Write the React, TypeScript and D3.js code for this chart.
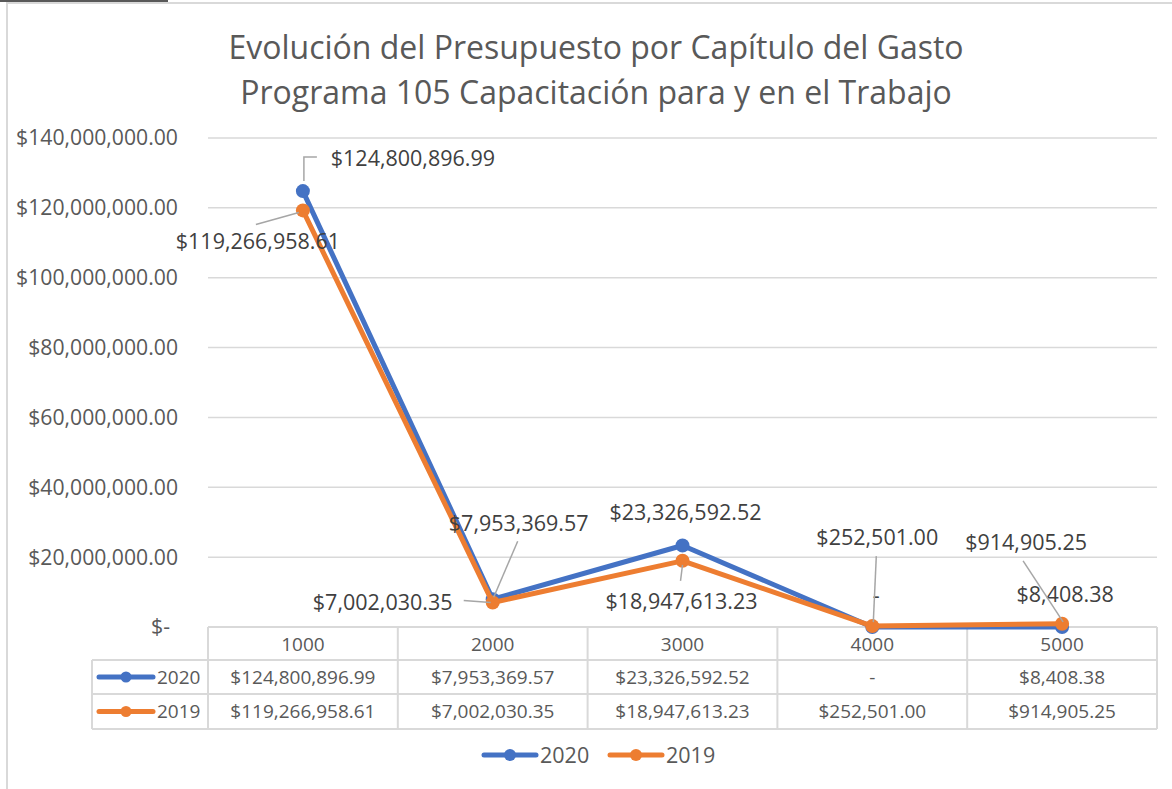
import React, { useRef, useEffect } from "react";
import * as d3 from "d3";

// chart data
const categories = ["1000", "2000", "3000", "4000", "5000"];
const seriesNames = ["2020", "2019"];
const values2020 = [124800896.99, 7953369.57, 23326592.52, 0, 8408.38];
const values2019 = [119266958.61, 7002030.35, 18947613.23, 252501.0, 914905.25];
const yTicks = [0, 20000000, 40000000, 60000000, 80000000, 100000000, 120000000, 140000000];

const colors = { "2020": "#4472C4", "2019": "#ED7D31" };

// label placement (dx, dy from the point) and leader lines (relative to the point)
const labelPos = {
  "2020": [
    { dx: 110, dy: -33, leader: [[1, -10], [1, -34], [14, -34]] },
    { dx: 26, dy: -76, leader: [[25, -58], [1, -2]] },
    { dx: 3, dy: -33, leader: null },
    { dx: 4, dy: -32, leader: null },
    { dx: 3, dy: -32, leader: null },
  ],
  "2019": [
    { dx: -45, dy: 31, leader: [[-4, 2], [-47, 14]] },
    { dx: -110, dy: 0, leader: [[-29, -2], [-2, 0]] },
    { dx: -1, dy: 41, leader: [[0, 4], [-2, 20]] },
    { dx: 5, dy: -89, leader: [[4, -70], [1, -4]] },
    { dx: -36, dy: -81, leader: [[-39, -63], [1, -2]] },
  ],
};

const fmtMoney = (v) => (v === 0 ? "-" : "$" + d3.format(",.2f")(v));
const fmtAxis = (v) => (v === 0 ? "$-" : "$" + d3.format(",.2f")(v));

const App = () => {
  const container = useRef(null);
  const width = 1172;
  const height = 789;
  const font = "'Open Sans', sans-serif";
  const textColor = "#595959";

  useEffect(() => {
    const svg = d3.select(container.current);
    svg.selectAll("*").remove();

    // chart outline
    svg.append("rect").attr("x", 7).attr("y", 3).attr("width", width + 10).attr("height", height + 10)
      .attr("fill", "#fff").attr("stroke", "#d9d9d9").attr("stroke-width", 2);
    svg.append("line").attr("x1", 0).attr("x2", 168).attr("y1", 1).attr("y2", 1)
      .attr("stroke", "#595959").attr("stroke-width", 2);

    // title
    const title = svg.append("text").attr("text-anchor", "middle").style("font-family", font)
      .style("font-size", "32px").attr("fill", textColor);
    title.append("tspan").attr("x", 596).attr("y", 59).text("Evolución del Presupuesto por Capítulo del Gasto");
    title.append("tspan").attr("x", 596).attr("y", 104).text("Programa 105 Capacitación para y en el Trabajo");

    // scales
    const xScale = d3.scaleBand().domain(categories).range([208, 1157]);
    const yScale = d3.scaleLinear().domain([0, 140000000]).range([627, 138]);
    const cx = (c) => xScale(c) + xScale.bandwidth() / 2;

    // gridlines
    svg.append("g").selectAll("line").data(yTicks).enter().append("line")
      .attr("x1", 208).attr("x2", 1157)
      .attr("y1", (d) => yScale(d)).attr("y2", (d) => yScale(d))
      .attr("stroke", "#d9d9d9").attr("stroke-width", 1.5);

    // y axis labels
    svg.append("g").selectAll("text").data(yTicks).enter().append("text")
      .attr("x", (d) => (d === 0 ? 170 : 178)).attr("y", (d) => yScale(d))
      .attr("dy", "0.35em").attr("text-anchor", "end")
      .style("font-family", font).style("font-size", "21.2px").attr("fill", textColor)
      .text((d) => fmtAxis(d));

    // table
    const rowTop = [627, 660, 694, 729];
    const table = svg.append("g").attr("stroke", "#d9d9d9").attr("stroke-width", 2);
    rowTop.forEach((y, i) => {
      table.append("line").attr("x1", i === 0 ? 208 : 92).attr("x2", 1157).attr("y1", y).attr("y2", y);
    });
    categories.forEach((c) => {
      table.append("line").attr("x1", xScale(c)).attr("x2", xScale(c)).attr("y1", 627).attr("y2", 729);
    });
    table.append("line").attr("x1", 1157).attr("x2", 1157).attr("y1", 627).attr("y2", 729);
    table.append("line").attr("x1", 92).attr("x2", 92).attr("y1", 660).attr("y2", 729);

    const tableText = svg.append("g").style("font-family", font).style("font-size", "19px")
      .attr("fill", textColor).attr("text-anchor", "middle");
    categories.forEach((c) => {
      tableText.append("text").attr("x", cx(c)).attr("y", 644).attr("dy", "0.35em").text(c);
    });
    const allSeries = [values2020, values2019];
    allSeries.forEach((vals, si) => {
      const yMid = (rowTop[si + 1] + rowTop[si + 2]) / 2;
      vals.forEach((v, i) => {
        tableText.append("text").attr("x", cx(categories[i])).attr("y", yMid).attr("dy", "0.35em").text(fmtMoney(v));
      });
      const key = svg.append("g");
      key.append("line").attr("x1", 99).attr("x2", 153).attr("y1", yMid).attr("y2", yMid)
        .attr("stroke", colors[seriesNames[si]]).attr("stroke-width", 5).attr("stroke-linecap", "round");
      key.append("circle").attr("cx", 126).attr("cy", yMid).attr("r", 5.5).attr("fill", colors[seriesNames[si]]);
      key.append("text").attr("x", 157).attr("y", yMid).attr("dy", "0.35em")
        .style("font-family", font).style("font-size", "19px").attr("fill", textColor).text(seriesNames[si]);
    });

    // lines and markers
    const line = d3.line().x((d, i) => cx(categories[i])).y((d) => yScale(d));
    allSeries.forEach((vals, si) => {
      const color = colors[seriesNames[si]];
      svg.append("path").datum(vals).attr("d", line).attr("fill", "none")
        .attr("stroke", color).attr("stroke-width", 5).attr("stroke-linejoin", "round");
      svg.append("g").selectAll("circle").data(vals).enter().append("circle")
        .attr("cx", (d, i) => cx(categories[i])).attr("cy", (d) => yScale(d))
        .attr("r", 7).attr("fill", color);
    });

    // data labels with leader lines
    allSeries.forEach((vals, si) => {
      const name = seriesNames[si];
      vals.forEach((v, i) => {
        const px = cx(categories[i]);
        const py = yScale(v);
        const pos = labelPos[name][i];
        if (pos.leader) {
          svg.append("polyline")
            .attr("points", pos.leader.map((p) => `${px + p[0]},${py + p[1]}`).join(" "))
            .attr("fill", "none").attr("stroke", "#a6a6a6").attr("stroke-width", 1.5);
        }
        svg.append("text").attr("x", px + pos.dx).attr("y", py + pos.dy).attr("dy", "0.35em")
          .attr("text-anchor", "middle").style("font-family", font).style("font-size", "21.5px")
          .attr("fill", "#404040").text(fmtMoney(v));
      });
    });

    // legend
    const legend = svg.append("g").attr("transform", "translate(482, 755)");
    seriesNames.forEach((name, i) => {
      const g = legend.append("g").attr("transform", `translate(${i * 126}, 0)`);
      g.append("line").attr("x1", 2).attr("x2", 54).attr("y1", 0).attr("y2", 0)
        .attr("stroke", colors[name]).attr("stroke-width", 5).attr("stroke-linecap", "round");
      g.append("circle").attr("cx", 28).attr("cy", 0).attr("r", 6).attr("fill", colors[name]);
      g.append("text").attr("x", 58).attr("y", 0).attr("dy", "0.35em")
        .style("font-family", font).style("font-size", "21.5px").attr("fill", textColor).text(name);
    });
  }, []);

  return (
    <div style={{ position: "absolute", left: 0, top: 0, width: width, height: height }}>
      <svg ref={container} width={width} height={height} style={{ display: "block" }} />
    </div>
  );
};

export default App;
